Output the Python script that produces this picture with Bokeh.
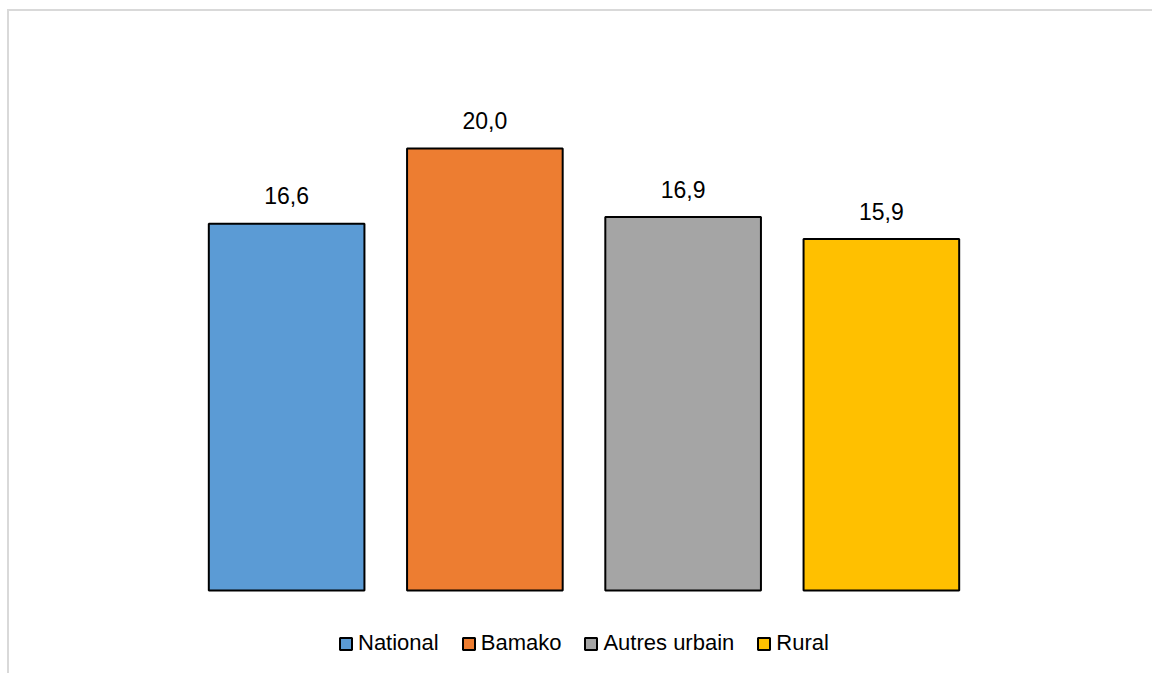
from bokeh.plotting import figure
from bokeh.models import ColumnDataSource, Legend, LegendItem, FactorRange, Range1d
from bokeh.core.properties import value
from bokeh.embed import file_html
from bokeh.resources import INLINE

categories = ["National", "Bamako", "Autres urbain", "Rural"]
values = [16.6, 20.0, 16.9, 15.9]
colors = ["#5B9BD5", "#ED7D31", "#A5A5A5", "#FFC000"]
labels = [f"{v:.1f}".replace(".", ",") for v in values]

FONT = "Liberation Sans, Arial, sans-serif"

src = ColumnDataSource(dict(cat=categories, val=values, color=colors, label=labels))

p = figure(
    x_range=FactorRange(factors=categories),
    y_range=Range1d(-3.846, 26.2),
    width=1145, height=664,
    output_backend="svg", toolbar_location=None,
    min_border_left=178, min_border_right=174,
    min_border_top=0, min_border_bottom=0,
    styles={"margin-left": "7px", "margin-top": "9px",
            "border-top": "2px solid #d9d9d9", "border-left": "2px solid #d9d9d9"},
)
p.outline_line_color = None
p.xaxis.visible = False
p.yaxis.visible = False
p.xgrid.visible = False
p.ygrid.visible = False
p.background_fill_color = "white"
p.border_fill_color = "white"

renderers = []
for i, c in enumerate(categories):
    sub = ColumnDataSource(dict(cat=[c], val=[values[i]]))
    r = p.vbar(x="cat", top="val", bottom=0, width=0.785, source=sub,
               fill_color=colors[i], line_color="black", line_width=2)
    renderers.append(r)

p.text(x="cat", y="val", text="label", source=src, text_align="center",
       text_baseline="alphabetic", y_offset=-28, text_font=value(FONT),
       text_font_size="23px", text_color="black")

legend = Legend(
    items=[LegendItem(label=c, renderers=[r]) for c, r in zip(categories, renderers)],
    orientation="horizontal", location=(151, 19),
    padding=0, margin=0, spacing=22, label_standoff=5,
    glyph_width=15, glyph_height=15, label_height=25,
    label_text_font=FONT, label_text_font_size="22px", label_text_color="black",
    border_line_color=None, background_fill_alpha=0,
)
p.add_layout(legend, "center")

open("out.html", "w").write(file_html(p, INLINE))
